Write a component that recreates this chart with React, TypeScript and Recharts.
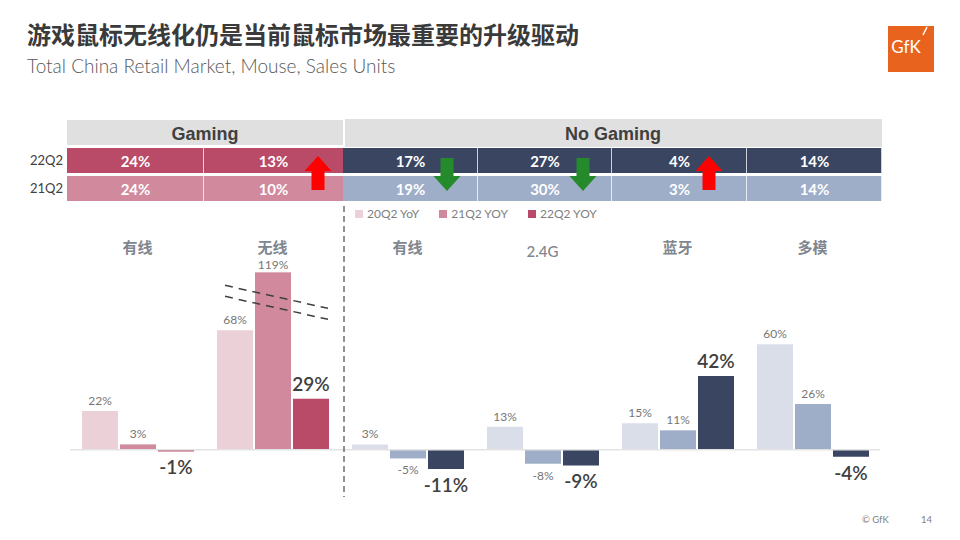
import React from "react";
import { Bar, BarChart, Cell, LabelList, Legend, ReferenceLine, XAxis, YAxis } from "recharts";

// bar chart: YoY growth by connection type
const categories = ["有线", "无线", "有线", "2.4G", "蓝牙", "多模"];
const segments = ["gaming", "gaming", "nogaming", "nogaming", "nogaming", "nogaming"];
const yoy20 = [22, 68, 3, 13, 15, 60];
const yoy21 = [3, 119, -5, -8, 11, 26];
const yoy22 = [-1, 29, -11, -9, 42, -4];
const seriesNames = ["20Q2 YoY", "21Q2 YOY", "22Q2 YOY"];

// share table above the chart
const tableHeads = ["Gaming", "No Gaming"];
const rowLabels = ["22Q2", "21Q2"];
const share22 = [24, 13, 17, 27, 4, 14];
const share21 = [24, 10, 19, 30, 3, 14];

const PINK = ["#ecd0d8", "#d0899d", "#b94a68"];
const BLUE = ["#d9dee8", "#9eadc8", "#3a4661"];
const BREAK_AT = 101; // 119% bar is drawn broken

const data = categories.map((name, i) => ({
  name,
  y20: yoy20[i],
  y21: yoy21[i],
  y22: yoy22[i],
}));

const colorFor = (i: number, s: number) => (segments[i] === "gaming" ? PINK[s] : BLUE[s]);

function geom(props: any) {
  const vb = props.viewBox && props.viewBox.width != null ? props.viewBox : props;
  const { x, y, width, height } = vb;
  return { x, width, top: Math.min(y, y + height), bottom: Math.max(y, y + height) };
}

const makeLabel = (big: boolean) => (props: any) => {
  const v = Number(props.value);
  const { x, width, top, bottom } = geom(props);
  const cx = x + width / 2;
  let ty;
  if (v >= 0) {
    const broken = v > BREAK_AT;
    const barTop = broken ? bottom - ((bottom - top) * BREAK_AT) / v : top;
    ty = barTop - (big ? 8 : broken ? 3 : 6);
  } else {
    ty = bottom + (big ? 23 : 16);
  }
  return (
    <text
      x={cx}
      y={ty}
      textAnchor="middle"
      fontSize={big ? 19 : 12}
      fontWeight={big ? 600 : 400}
      fill={big ? "#404040" : "#767676"}
    >
      {v}%
    </text>
  );
};

function BrokenBar(props: any) {
  const { fill } = props;
  const v = Array.isArray(props.value) ? props.value[1] : Number(props.value);
  const { x, width, top, bottom } = geom(props);
  if (!(v > BREAK_AT)) {
    return <rect x={x} y={top} width={width} height={bottom - top} fill={fill} />;
  }
  const t = bottom - ((bottom - top) * BREAK_AT) / v;
  return (
    <g>
      <rect x={x} y={t} width={width} height={bottom - t} fill={fill} />
      <line x1={x - 30} y1={t + 13} x2={x + 73} y2={t + 36} stroke="#404040" strokeWidth={1.5} strokeDasharray="8 6" />
      <line x1={x - 30} y1={t + 24} x2={x + 73} y2={t + 47} stroke="#404040" strokeWidth={1.5} strokeDasharray="8 6" />
    </g>
  );
}

function CategoryTick(props: any) {
  const { x, y, payload } = props;
  const plain = payload.value === "2.4G";
  return (
    <text
      x={x}
      y={y + (plain ? 26 : 22)}
      textAnchor="middle"
      fontSize={15}
      fontWeight={plain ? 500 : 700}
      fill="#7f868f"
    >
      {payload.value}
    </text>
  );
}

function Arrow({ cx, top, bottom, up }: { cx: number; top: number; bottom: number; up: boolean }) {
  const hw = 13.5, sw = 6.5, hh = 15;
  const pts = up
    ? [[cx, top], [cx + hw, top + hh], [cx + sw, top + hh], [cx + sw, bottom], [cx - sw, bottom], [cx - sw, top + hh], [cx - hw, top + hh]]
    : [[cx, bottom], [cx + hw, bottom - hh], [cx + sw, bottom - hh], [cx + sw, top], [cx - sw, top], [cx - sw, bottom - hh], [cx - hw, bottom - hh]];
  return <polygon points={pts.map((p) => p.join(",")).join(" ")} fill={up ? "#ff0000" : "#248a2c"} />;
}

function ShareTable() {
  const edges = [67, 204, 343, 478, 612, 747, 882];
  const rows = [share22, share21];
  const rowTop = [148, 176];
  return (
    <g>
      <rect x={67} y={120} width={276} height={25} fill="#e0e0e0" />
      <rect x={345} y={119} width={537} height={28} fill="#e0e0e0" />
      <text x={205} y={140} textAnchor="middle" fontFamily="'Liberation Sans', Arial, sans-serif" fontWeight={700} fontSize={18} fill="#404040">
        {tableHeads[0]}
      </text>
      <text x={613} y={140} textAnchor="middle" fontFamily="'Liberation Sans', Arial, sans-serif" fontWeight={700} fontSize={18} fill="#404040">
        {tableHeads[1]}
      </text>
      {rows.map((row, r) => (
        <g key={r}>
          <text x={63} y={rowTop[r] + 17} textAnchor="end" fontSize={13} fill="#404040">
            {rowLabels[r]}
          </text>
          {row.map((v, i) => {
            const x0 = edges[i];
            const x1 = edges[i + 1];
            const fill = segments[i] === "gaming" ? (r === 0 ? PINK[2] : PINK[1]) : r === 0 ? BLUE[2] : BLUE[1];
            return (
              <g key={i}>
                <rect x={x0} y={rowTop[r]} width={x1 - x0} height={25} fill={fill} />
                <line x1={x1} y1={rowTop[r]} x2={x1} y2={rowTop[r] + 25} stroke="#fff" strokeWidth={i === 1 ? 0 : 1.5} />
                <text x={(x0 + x1) / 2} y={rowTop[r] + 18.5} textAnchor="middle" fontSize={15} fontWeight={700} fill="#fff">
                  {v}%
                </text>
              </g>
            );
          })}
        </g>
      ))}
      <Arrow cx={318} top={156} bottom={190} up />
      <Arrow cx={447} top={158} bottom={191} up={false} />
      <Arrow cx={583} top={158} bottom={191} up={false} />
      <Arrow cx={709} top={156} bottom={190} up />
    </g>
  );
}

export default function App() {
  return (
    <div
      style={{
        position: "absolute",
        left: 0,
        top: 0,
        width: 960,
        height: 540,
        background: "#fff",
        overflow: "hidden",
        fontFamily: "Lato, 'Noto Sans CJK SC', sans-serif",
      }}
    >
      <div style={{ position: "absolute", left: 0, top: 0 }}>
        <BarChart
          width={960}
          height={540}
          data={data}
          margin={{ top: 209, right: 80, bottom: 64, left: 70 }}
          barSize={36}
          barGap={2}
        >
          <XAxis
            dataKey="name"
            orientation="top"
            height={30}
            interval={0}
            axisLine={false}
            tickLine={false}
            tick={<CategoryTick />}
          />
          <YAxis hide domain={[-15, 120]} />
          <ReferenceLine y={0} stroke="#e3e3e3" strokeWidth={1.5} />
          <Legend
            align="center"
            verticalAlign="middle"
            layout="horizontal"
            iconType="square"
            iconSize={8}
            wrapperStyle={{ left: 355, top: 202, width: "auto" }}
            formatter={(value) => (
              <span style={{ color: "#7f7f7f", fontSize: 12, marginRight: 10 }}>{value}</span>
            )}
          />
          <Bar dataKey="y20" name={seriesNames[0]} fill={PINK[0]} isAnimationActive={false}>
            {data.map((_, i) => (
              <Cell key={i} fill={colorFor(i, 0)} />
            ))}
            <LabelList dataKey="y20" content={makeLabel(false)} />
          </Bar>
          <Bar dataKey="y21" name={seriesNames[1]} fill={PINK[1]} shape={BrokenBar} isAnimationActive={false}>
            {data.map((_, i) => (
              <Cell key={i} fill={colorFor(i, 1)} />
            ))}
            <LabelList dataKey="y21" content={makeLabel(false)} />
          </Bar>
          <Bar dataKey="y22" name={seriesNames[2]} fill={PINK[2]} isAnimationActive={false}>
            {data.map((_, i) => (
              <Cell key={i} fill={colorFor(i, 2)} />
            ))}
            <LabelList dataKey="y22" content={makeLabel(true)} />
          </Bar>
        </BarChart>
      </div>

      <svg width={960} height={540} style={{ position: "absolute", left: 0, top: 0, pointerEvents: "none" }}>
        <text x={27} y={44} fontFamily="'Noto Sans CJK SC', sans-serif" fontWeight={700} fontSize={24} fill="#3a3a3a">
          游戏鼠标无线化仍是当前鼠标市场最重要的升级驱动
        </text>
        <text x={27} y={73} fontFamily="Lato, sans-serif" fontWeight={300} fontSize={19} fill="#595959">
          Total China Retail Market, Mouse, Sales Units
        </text>

        <rect x={888} y={26} width={46} height={46} fill="#e8641e" />
        <text x={906} y={53} textAnchor="middle" fontSize={17} fill="#fff" fontFamily="Lato, sans-serif">
          GfK
        </text>
        <line x1={927} y1={27} x2={923} y2={35} stroke="#fff" strokeWidth={1.5} />

        <ShareTable />

        <line x1={344} y1={206} x2={344} y2={497} stroke="#6e6e6e" strokeWidth={1.5} strokeDasharray="6 4" />

        <text x={862} y={523} fontSize={9.5} fill="#7f7f7f">© GfK</text>
        <text x={921} y={523} fontSize={9.5} fill="#7f7f7f">14</text>
      </svg>
    </div>
  );
}
